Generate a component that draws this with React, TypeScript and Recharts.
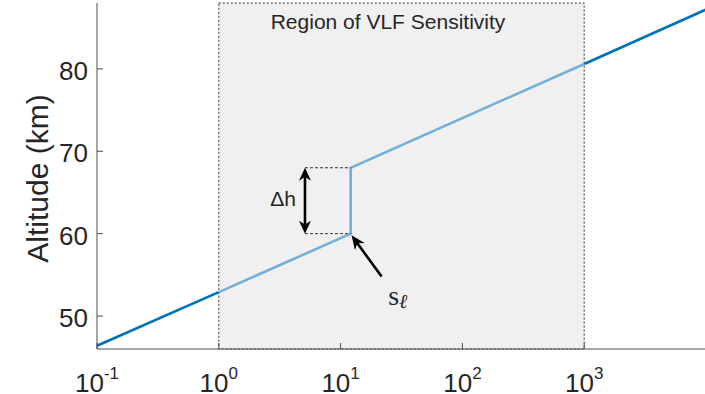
import React from 'react';
import {
  ComposedChart,
  Line,
  XAxis,
  YAxis,
  ReferenceArea,
  ReferenceLine,
  ReferenceDot,
} from 'recharts';

// ---- data ----
const xTicks = [0.1, 1, 10, 100, 1000];
const xTickExp = ['-1', '0', '1', '2', '3'];
const yTicks = [50, 60, 70, 80];
const xDomain: [number, number] = [0.1, 10000];
const yDomain: [number, number] = [46, 88];

const darkLeftX = [0.1, 1];
const darkLeftAlt = [46.4, 52.9];
const lightX = [1, 12.1, 12.1, 1000];
const lightAlt = [52.9, 60.0, 68.0, 80.6];
const darkRightX = [1000, 10000];
const darkRightAlt = [80.6, 87.2];

const regionX = [1, 1000];
const regionLabel = 'Region of VLF Sensitivity';
const regionLabelPos = { x: 24.5, y: 84.9 };
const deltaX = 5.1;
const stepX = 12.1;
const deltaLow = 60;
const deltaHigh = 68;
const deltaLabel = '\u0394h';
const deltaLabelPos = { x: 3.37, y: 63.3 };
const sArrowTail = { x: 21.7, y: 54.8 };
const sArrowTip = { x: 12.3, y: 59.8 };
const sLabelPos = { x: 24.6, y: 51.3 };

const toRows = (xs: number[], ys: number[]) => xs.map((x, i) => ({ x, alt: ys[i] }));
const darkLeft = toRows(darkLeftX, darkLeftAlt);
const lightMid = toRows(lightX, lightAlt);
const darkRight = toRows(darkRightX, darkRightAlt);

const FONT = '"Liberation Sans", Arial, Helvetica, sans-serif';
const TEXT = '#262626';
const AXIS = '#4d4d4d';
const DARK = '#0072BD';
const LIGHT = '#74AFD8';
const TICK_LEN = 6;

// ---- ticks ----
const BottomTick = (props: any) => {
  const { x, y, index } = props;
  return (
    <g>
      <line x1={x} y1={y} x2={x} y2={y - TICK_LEN} stroke={AXIS} strokeWidth={1} />
      <text x={x} y={y + 42.5} textAnchor="middle" fontFamily={FONT} fontSize={26} fill={TEXT}>
        <tspan>10</tspan>
        <tspan dy={-12.5} fontSize={17}>{xTickExp[index]}</tspan>
      </text>
    </g>
  );
};
const TopTick = (props: any) => {
  const { x, y } = props;
  return <line x1={x} y1={y} x2={x} y2={y + TICK_LEN} stroke={AXIS} strokeWidth={1} />;
};
const LeftTick = (props: any) => {
  const { x, y, payload } = props;
  return (
    <g>
      <line x1={x} y1={y} x2={x + TICK_LEN} y2={y} stroke={AXIS} strokeWidth={1} />
      <text x={x - 9} y={y + 11} textAnchor="end" fontFamily={FONT} fontSize={26} fill={TEXT}>
        {payload.value}
      </text>
    </g>
  );
};
const RightTick = (props: any) => {
  const { x, y } = props;
  return <line x1={x} y1={y} x2={x - TICK_LEN} y2={y} stroke={AXIS} strokeWidth={1} />;
};

// ---- arrows ----
function headPoints(tx: number, ty: number, fx: number, fy: number, len = 12, half = 5.5) {
  const dx = tx - fx;
  const dy = ty - fy;
  const L = Math.hypot(dx, dy) || 1;
  const ux = dx / L;
  const uy = dy / L;
  const px = -uy;
  const py = ux;
  const bx = tx - ux * len;
  const by = ty - uy * len;
  const nx = tx - ux * len * 0.7;
  const ny = ty - uy * len * 0.7;
  return {
    pts: `${tx},${ty} ${bx + px * half},${by + py * half} ${nx},${ny} ${bx - px * half},${by - py * half}`,
    nx,
    ny,
  };
}

const SingleArrow = (props: any) => {
  const { x1, y1, x2, y2 } = props; // x1,y1 tail ; x2,y2 tip
  const h = headPoints(x2, y2, x1, y1, 14, 6);
  return (
    <g>
      <line x1={x1} y1={y1} x2={h.nx} y2={h.ny} stroke="#000" strokeWidth={2.6} />
      <polygon points={h.pts} fill="#000" />
    </g>
  );
};

const DoubleArrow = (props: any) => {
  const { x1, y1, x2, y2 } = props;
  const a = headPoints(x2, y2, x1, y1, 13, 6);
  const b = headPoints(x1, y1, x2, y2, 13, 6);
  return (
    <g>
      <line x1={b.nx} y1={b.ny} x2={a.nx} y2={a.ny} stroke="#000" strokeWidth={2.6} />
      <polygon points={a.pts} fill="#000" />
      <polygon points={b.pts} fill="#000" />
    </g>
  );
};

// ---- labels ----
const RegionText = (props: any) => (
  <text x={props.cx} y={props.cy} textAnchor="middle" fontFamily={FONT} fontSize={21} fill={TEXT}>
    {regionLabel}
  </text>
);
const DeltaText = (props: any) => (
  <text x={props.cx} y={props.cy} textAnchor="middle" fontFamily={FONT} fontSize={21} fill={TEXT}>
    {deltaLabel}
  </text>
);
const SText = (props: any) => (
  <text x={props.cx} y={props.cy} textAnchor="start" fontFamily='"Liberation Serif", "DejaVu Serif", serif' fontSize={28} fill={TEXT}>
    <tspan>s</tspan>
    <tspan dy={3} fontSize={20} fontStyle="italic">{'\u2113'}</tspan>
  </text>
);

export default function App() {
  return (
    <div style={{ position: 'absolute', left: 0, top: 0, width: 705, height: 394, overflow: 'hidden', background: '#fff' }}>
      <ComposedChart width={720} height={394} margin={{ top: 3, right: 14, bottom: 0, left: 0 }}>
        <ReferenceArea
          x1={regionX[0]}
          x2={regionX[1]}
          y1={yDomain[0]}
          y2={yDomain[1]}
          fill="#f0f0f0"
          fillOpacity={1}
          stroke="#333"
          strokeWidth={1}
          strokeDasharray="2 2"
          ifOverflow="visible"
        />
        <XAxis
          dataKey="x"
          type="number"
          scale="log"
          domain={xDomain}
          allowDataOverflow
          ticks={xTicks}
          height={45}
          tickSize={0}
          tickMargin={0}
          tickLine={false}
          axisLine={{ stroke: AXIS, strokeWidth: 1 }}
          tick={<BottomTick />}
          interval={0}
        />
        <XAxis
          xAxisId="top"
          orientation="top"
          dataKey="x"
          type="number"
          scale="log"
          domain={xDomain}
          allowDataOverflow
          ticks={xTicks}
          height={0}
          tickSize={0}
          tickMargin={0}
          tickLine={false}
          axisLine={{ stroke: AXIS, strokeWidth: 1 }}
          tick={<TopTick />}
          interval={0}
        />
        <YAxis
          type="number"
          domain={yDomain}
          allowDataOverflow
          ticks={yTicks}
          width={97}
          tickSize={0}
          tickMargin={0}
          tickLine={false}
          axisLine={{ stroke: AXIS, strokeWidth: 1 }}
          tick={<LeftTick />}
          interval={0}
          label={{
            value: 'Altitude (km)',
            angle: -90,
            position: 'insideLeft',
            content: (p: any) => {
              const vb = p.viewBox || {};
              const cy = (vb.y ?? 0) + (vb.height ?? 0) / 2 + 2.5;
              return (
                <text
                  x={48}
                  y={cy}
                  transform={`rotate(-90, 48, ${cy})`}
                  textAnchor="middle"
                  fontFamily={FONT}
                  fontSize={30}
                  fill={TEXT}
                >
                  Altitude (km)
                </text>
              );
            },
          }}
        />
        <YAxis
          yAxisId="right"
          orientation="right"
          type="number"
          domain={yDomain}
          allowDataOverflow
          ticks={yTicks}
          width={0}
          tickSize={0}
          tickMargin={0}
          tickLine={false}
          axisLine={{ stroke: AXIS, strokeWidth: 1 }}
          tick={<RightTick />}
          interval={0}
        />

        <Line data={darkLeft} dataKey="alt" stroke={DARK} strokeWidth={2.6} dot={false} isAnimationActive={false} />
        <Line data={darkRight} dataKey="alt" stroke={DARK} strokeWidth={2.6} dot={false} isAnimationActive={false} />
        <Line data={lightMid} dataKey="alt" stroke={LIGHT} strokeWidth={2.6} dot={false} isAnimationActive={false} strokeLinejoin="miter" />

        <ReferenceLine
          segment={[{ x: deltaX, y: deltaHigh }, { x: stepX, y: deltaHigh }]}
          stroke="#333"
          strokeWidth={1}
          strokeDasharray="3 2"
        />
        <ReferenceLine
          segment={[{ x: deltaX, y: deltaLow }, { x: stepX, y: deltaLow }]}
          stroke="#333"
          strokeWidth={1}
          strokeDasharray="3 2"
        />
        <ReferenceLine
          segment={[{ x: deltaX, y: deltaLow }, { x: deltaX, y: deltaHigh }]}
          shape={<DoubleArrow />}
        />
        <ReferenceLine segment={[sArrowTail, sArrowTip]} shape={<SingleArrow />} />

        <ReferenceDot x={regionLabelPos.x} y={regionLabelPos.y} r={1} shape={<RegionText />} />
        <ReferenceDot x={deltaLabelPos.x} y={deltaLabelPos.y} r={1} shape={<DeltaText />} />
        <ReferenceDot x={sLabelPos.x} y={sLabelPos.y} r={1} shape={<SText />} />
      </ComposedChart>
    </div>
  );
}
